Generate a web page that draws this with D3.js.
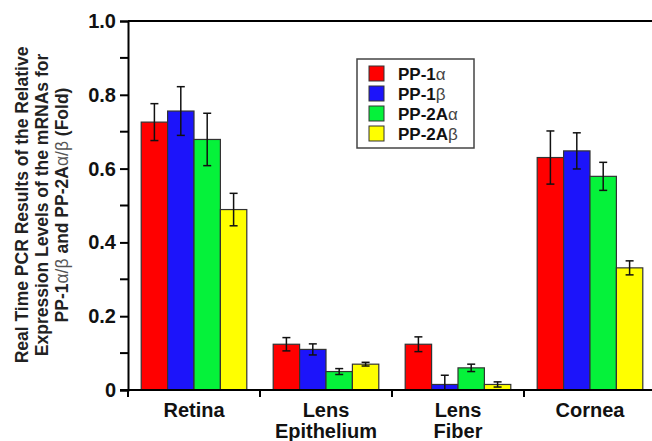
<html>
<head>
<script src="https://d3js.org/d3.v7.min.js"></script>
<style>
  body { margin: 0; background: #fff; }
  text { font-family: "Liberation Sans", Arial, Helvetica, sans-serif; }
</style>
</head>
<body>
<div id="chart"></div>
<script>
const categories = [["Retina"], ["Lens", "Epithelium"], ["Lens", "Fiber"], ["Cornea"]];
const seriesNames = [["PP-1", "\u03b1"], ["PP-1", "\u03b2"], ["PP-2A", "\u03b1"], ["PP-2A", "\u03b2"]];
const colors = ["#ff0000", "#1c14fa", "#05f23a", "#ffff00"];

// mean values per tissue, one array per series
const pp1a  = [0.726, 0.124, 0.124, 0.630];
const pp1b  = [0.756, 0.110, 0.015, 0.648];
const pp2aa = [0.679, 0.050, 0.060, 0.579];
const pp2ab = [0.489, 0.070, 0.015, 0.331];
// error bar half-heights
const pp1aErr  = [0.050, 0.018, 0.020, 0.072];
const pp1bErr  = [0.066, 0.015, 0.025, 0.049];
const pp2aaErr = [0.071, 0.008, 0.010, 0.038];
const pp2abErr = [0.044, 0.005, 0.007, 0.019];

const yTicks = [0, 0.2, 0.4, 0.6, 0.8, 1.0];
const yMinor = [0.1, 0.3, 0.5, 0.7, 0.9];

const values = [pp1a, pp1b, pp2aa, pp2ab];
const errs = [pp1aErr, pp1bErr, pp2aaErr, pp2abErr];

const W = 652, H = 441;
const m = {left: 128, right: 656, top: 21, bottom: 390};

const svg = d3.select("#chart").append("svg")
    .attr("width", W).attr("height", H);

const catKeys = categories.map(c => c.join(" "));
const x = d3.scaleBand().domain(catKeys).range([m.left, m.right])
    .paddingInner(0.2).paddingOuter(0.1);
const x1 = d3.scaleBand().domain(d3.range(values.length)).range([0, x.bandwidth()]);
const y = d3.scaleLinear().domain([0, 1]).range([m.bottom, m.top]);

// bars
const rows = [];
catKeys.forEach((c, i) => {
    values.forEach((s, j) => rows.push({cat: c, s: j, v: s[i], e: errs[j][i]}));
});

svg.append("g").selectAll("rect").data(rows).enter().append("rect")
    .attr("x", d => x(d.cat) + x1(d.s))
    .attr("y", d => y(d.v))
    .attr("width", x1.bandwidth())
    .attr("height", d => y(0) - y(d.v))
    .attr("fill", d => colors[d.s])
    .attr("stroke", "#333")
    .attr("stroke-width", 1.2);

// error bars
const eb = svg.append("g").attr("stroke", "#111").attr("stroke-width", 1.5);
rows.forEach(d => {
    const cx = x(d.cat) + x1(d.s) + x1.bandwidth() / 2;
    const hi = d.v + d.e, lo = Math.max(0, d.v - d.e);
    eb.append("line").attr("x1", cx).attr("x2", cx).attr("y1", y(hi)).attr("y2", y(lo));
    eb.append("line").attr("x1", cx - 4).attr("x2", cx + 4).attr("y1", y(hi)).attr("y2", y(hi));
    if (lo > 0) eb.append("line").attr("x1", cx - 4).attr("x2", cx + 4).attr("y1", y(lo)).attr("y2", y(lo));
});

// frame
svg.append("line").attr("x1", m.left).attr("x2", W).attr("y1", m.top).attr("y2", m.top)
    .attr("stroke", "#000").attr("stroke-width", 2);

// y axis
const yAxis = svg.append("g").attr("transform", `translate(${m.left},0)`)
    .call(d3.axisLeft(y).tickValues(yTicks).tickSize(8).tickPadding(4)
        .tickFormat(d => d === 0 ? "0" : d3.format(".1f")(d)));
yAxis.select(".domain").attr("stroke-width", 2);
yAxis.selectAll(".tick line").attr("stroke-width", 2);
yAxis.selectAll(".tick text").attr("font-size", 20).attr("font-weight", "bold")
    .attr("font-family", "'Liberation Sans', Arial, sans-serif").attr("fill", "#111");
yAxis.selectAll(".minor").data(yMinor).enter().append("line")
    .attr("x1", -8).attr("x2", 0).attr("y1", d => y(d)).attr("y2", d => y(d))
    .attr("stroke", "#000").attr("stroke-width", 2);

// x axis
svg.append("line").attr("x1", m.left - 8).attr("x2", W).attr("y1", m.bottom).attr("y2", m.bottom)
    .attr("stroke", "#000").attr("stroke-width", 2);
const bounds = d3.range(catKeys.length + 1).map(i => m.left + i * x.step());
svg.append("g").selectAll("line").data(bounds).enter().append("line")
    .attr("x1", d => d).attr("x2", d => d).attr("y1", m.bottom).attr("y2", m.bottom + 7)
    .attr("stroke", "#000").attr("stroke-width", 2);

const catLabels = svg.append("g").attr("font-size", 20).attr("font-weight", "bold")
    .attr("text-anchor", "middle").attr("fill", "#111");
categories.forEach((c, i) => {
    const t = catLabels.append("text").attr("x", x(catKeys[i]) + x.bandwidth() / 2);
    c.forEach((line, k) => t.append("tspan").attr("x", x(catKeys[i]) + x.bandwidth() / 2)
        .attr("y", 417 + k * 21).text(line));
});

// y label
const ylab = svg.append("text").attr("transform", "translate(0,205) rotate(-90)")
    .attr("text-anchor", "middle").attr("font-size", 17.5).attr("font-weight", "bold").attr("fill", "#222");
ylab.append("tspan").attr("x", 0).attr("y", 28).text("Real Time PCR Results of the Relative");
ylab.append("tspan").attr("x", 0).attr("y", 48).text("Expression Levels of the mRNAs for");
const l3 = ylab.append("tspan").attr("x", 0).attr("y", 68);
l3.append("tspan").text("PP-1");
l3.append("tspan").attr("font-weight", "normal").attr("fill", "#555").text("\u03b1/\u03b2");
l3.append("tspan").text(" and PP-2A");
l3.append("tspan").attr("font-weight", "normal").attr("fill", "#555").text("\u03b1/\u03b2");
l3.append("tspan").text(" (Fold)");

// legend
const lg = svg.append("g").attr("transform", "translate(357,59)");
lg.append("rect").attr("width", 117).attr("height", 89).attr("fill", "#fff")
    .attr("stroke", "#444").attr("stroke-width", 1.5);
seriesNames.forEach((s, i) => {
    const g = lg.append("g").attr("transform", `translate(12,${7 + i * 20})`);
    g.append("rect").attr("width", 15).attr("height", 15).attr("fill", colors[i])
        .attr("stroke", "#333").attr("stroke-width", 1);
    const t = g.append("text").attr("x", 29).attr("y", 14).attr("font-size", 17)
        .attr("font-weight", "bold").attr("fill", "#111");
    t.append("tspan").text(s[0]);
    t.append("tspan").attr("font-weight", "normal").attr("fill", "#444").text(s[1]);
});
</script>
</body>
</html>
